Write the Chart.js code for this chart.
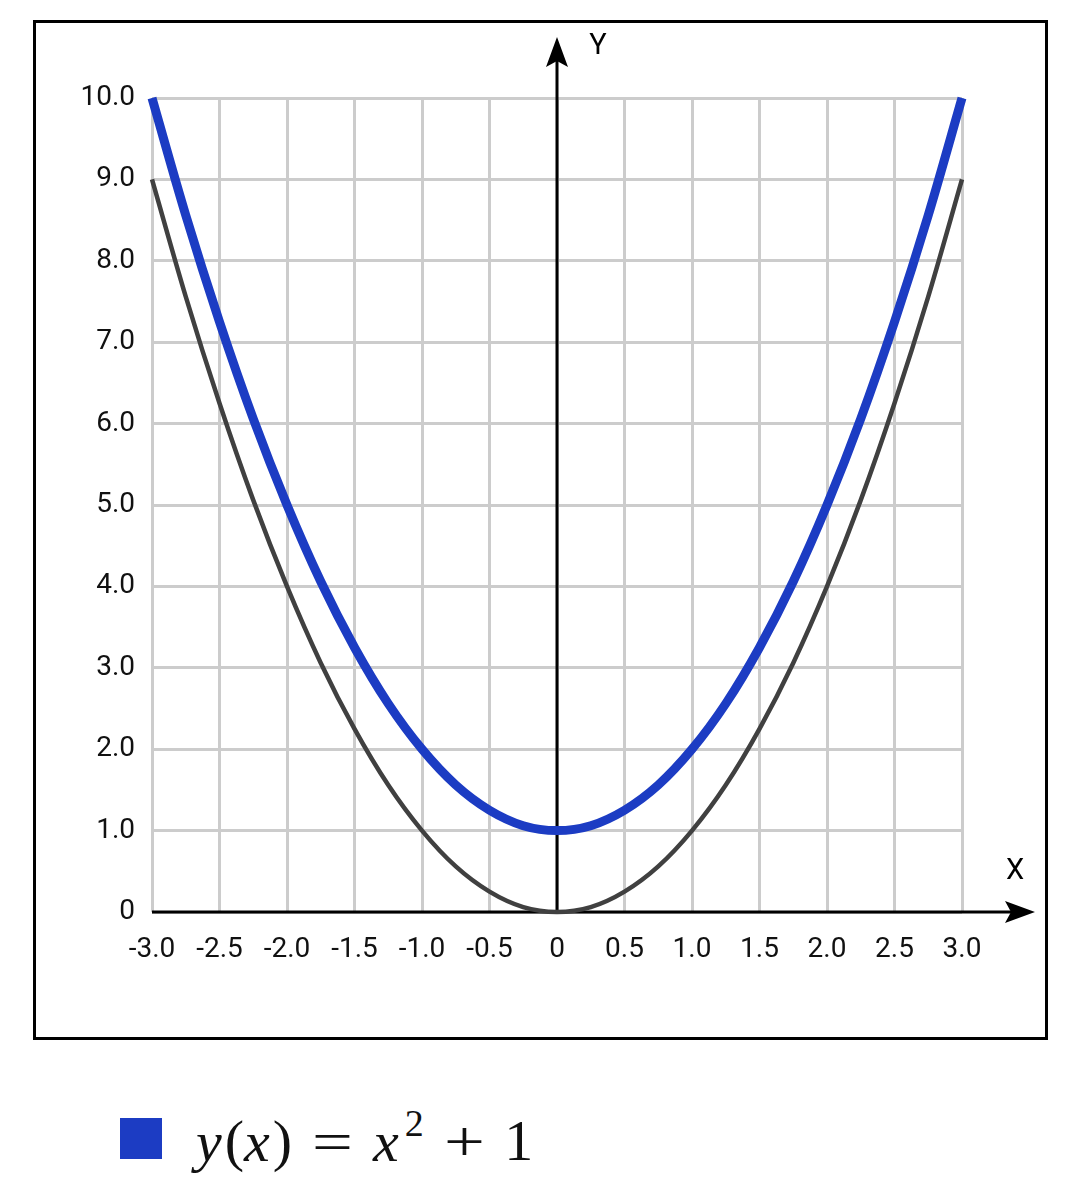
<!DOCTYPE html>
<html>
<head>
<meta charset="utf-8">
<script src="https://cdn.jsdelivr.net/npm/chart.js@4"></script>
<style>
  html, body { margin: 0; padding: 0; background: #fff; }
  body { width: 1080px; height: 1180px; position: relative; overflow: hidden; }
  #frame {
    position: absolute; left: 33px; top: 20px; width: 1015px; height: 1020px;
    border: 3px solid #000; box-sizing: border-box;
  }
  #wrap { position: absolute; left: 0; top: 0; width: 1080px; height: 1060px; }
  #legend {
    position: absolute; left: 120px; top: 1100px; height: 80px;
    display: flex; align-items: center;
    font-family: "Liberation Serif", "DejaVu Serif", serif; font-size: 58px; color: #111;
  }
  #legend .box { width: 42px; height: 41px; background: #1c3cc3; margin-right: 34px; margin-top: -4px; }
  #legend .op { margin: 0 24px; display: inline-block; transform: scaleX(1.25); }
  #legend i { margin-right: 3px; }
  #legend sup { font-size: 38px; position: relative; top: -4px; margin-left: 3px; }
</style>
</head>
<body>
<div id="frame"></div>
<div id="wrap"><canvas id="myChart" width="1080" height="1060"></canvas></div>
<div id="legend">
  <div class="box"></div>
  <span><i>y</i>(<i>x</i>)<span class="op">=</span><i>x</i><sup>2</sup><span class="op">+</span>1</span>
</div>
<script>
// x positions sampled along both curves
const xValues = [-3, -2.75, -2.5, -2.25, -2, -1.75, -1.5, -1.25, -1, -0.75, -0.5, -0.25,
  0, 0.25, 0.5, 0.75, 1, 1.25, 1.5, 1.75, 2, 2.25, 2.5, 2.75, 3];

// grey curve, y = x^2
const baseValues = [9, 7.56, 6.25, 5.06, 4, 3.06, 2.25, 1.56, 1, 0.56, 0.25, 0.06,
  0, 0.06, 0.25, 0.56, 1, 1.56, 2.25, 3.06, 4, 5.06, 6.25, 7.56, 9];

// blue curve, y = x^2 + 1
const shiftedValues = [10, 8.56, 7.25, 6.06, 5, 4.06, 3.25, 2.56, 2, 1.56, 1.25, 1.06,
  1, 1.06, 1.25, 1.56, 2, 2.56, 3.25, 4.06, 5, 6.06, 7.25, 8.56, 10];

// tick labels
const xTickValues = [-3, -2.5, -2, -1.5, -1, -0.5, 0, 0.5, 1, 1.5, 2, 2.5, 3];
const xTickLabels = ["-3.0", "-2.5", "-2.0", "-1.5", "-1.0", "-0.5", "0", "0.5", "1.0", "1.5", "2.0", "2.5", "3.0"];
const yTickValues = [0, 1, 2, 3, 4, 5, 6, 7, 8, 9, 10];
const yTickLabels = ["0", "1.0", "2.0", "3.0", "4.0", "5.0", "6.0", "7.0", "8.0", "9.0", "10.0"];

const ctx = document.getElementById("myChart");

// axis lines with arrow heads + X / Y names
const axisArrows = {
  id: "axisArrows",
  beforeDatasetsDraw(chart) {
    const c = chart.ctx;
    const xs = chart.scales.x, ys = chart.scales.y;
    const x0 = xs.getPixelForValue(0), y0 = ys.getPixelForValue(0);
    const xTip = xs.right + 73, yTip = ys.top - 61;
    c.save();
    c.strokeStyle = "#000";
    c.fillStyle = "#000";
    c.lineWidth = 3;
    c.beginPath();
    c.moveTo(xs.left, y0); c.lineTo(xTip - 10, y0);
    c.moveTo(x0, y0); c.lineTo(x0, yTip + 10);
    c.stroke();
    // x arrow head
    c.beginPath();
    c.moveTo(xTip, y0); c.lineTo(xTip - 30, y0 - 11); c.lineTo(xTip - 24, y0); c.lineTo(xTip - 30, y0 + 11);
    c.closePath(); c.fill();
    // y arrow head
    c.beginPath();
    c.moveTo(x0, yTip); c.lineTo(x0 - 11, yTip + 30); c.lineTo(x0, yTip + 24); c.lineTo(x0 + 11, yTip + 30);
    c.closePath(); c.fill();
    c.font = "29px Roboto";
    c.textAlign = "center";
    c.textBaseline = "middle";
    c.fillText("X", xTip - 20, y0 - 40);
    c.fillText("Y", x0 + 41, yTip + 10);
    c.restore();
  }
};

new Chart(ctx, {
  type: "line",
  data: {
    datasets: [
      {
        data: xValues.map((x, i) => ({ x: x, y: shiftedValues[i] })),
        borderColor: "#1c3cc3",
        borderWidth: 9,
        pointRadius: 0,
        cubicInterpolationMode: "monotone",
        clip: false,
      },
      {
        data: xValues.map((x, i) => ({ x: x, y: baseValues[i] })),
        borderColor: "#404040",
        borderWidth: 4.5,
        pointRadius: 0,
        cubicInterpolationMode: "monotone",
        clip: false,
      },
    ],
  },
  options: {
    responsive: false,
    animation: false,
    layout: { padding: { left: 0, right: 118, top: 98, bottom: 88 } },
    scales: {
      x: {
        type: "linear", min: -3, max: 3,
        afterBuildTicks: (s) => { s.ticks = xTickValues.map((v) => ({ value: v })); },
        afterFit: (s) => { s.height = 60; },
        border: { display: false },
        grid: { color: "#cccccc", lineWidth: 3, drawTicks: false },
        ticks: {
          padding: 21, maxRotation: 0, autoSkip: false,
          color: "#111", font: { family: "Roboto", size: 28 },
          callback: (v) => xTickLabels[xTickValues.indexOf(v)],
        },
      },
      y: {
        type: "linear", min: 0, max: 10,
        afterBuildTicks: (s) => { s.ticks = yTickValues.map((v) => ({ value: v })); },
        afterFit: (s) => { s.width = 152; },
        border: { display: false },
        grid: { color: "#cccccc", lineWidth: 3, drawTicks: false },
        ticks: {
          padding: 17,
          color: "#111", font: { family: "Roboto", size: 28 },
          callback: (v) => yTickLabels[yTickValues.indexOf(v)],
        },
      },
    },
    plugins: { legend: { display: false }, tooltip: { enabled: false } },
  },
  plugins: [axisArrows],
});
</script>
</body>
</html>
